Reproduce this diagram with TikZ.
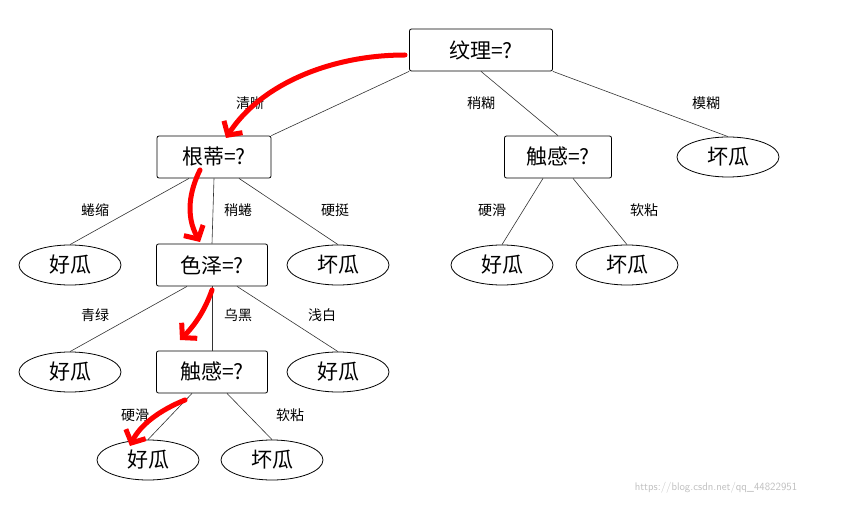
\documentclass[tikz,border=0pt]{standalone}
\usepackage{fontspec}
\setmainfont{Liberation Serif}
\newfontfamily\cjk{Noto Sans CJK SC}
\usetikzlibrary{arrows.meta,shapes.geometric}
\begin{document}
\begin{tikzpicture}[x=1pt,y=-1pt,
 q/.style={draw,thick,rounded corners=2pt,minimum width=#1,minimum height=42pt,font=\cjk\fontsize{21}{23}\selectfont,inner sep=2pt},
 q/.default=110pt,
 leaf/.style={draw,thick,ellipse,minimum width=102pt,minimum height=40pt,font=\cjk\fontsize{21}{23}\selectfont,inner sep=0pt},
 lb/.style={font=\cjk\fontsize{14}{16}\selectfont},
 e/.style={draw,semithick,black!80},
 red/.style={draw=red,line width=5pt,line cap=round,-{Straight Barb[length=10pt,width=22pt]}}]
\useasboundingbox (0,0) rectangle (849,505);
\node[q=143pt] (t) at (481,50) {纹理=?};
\node[q=114pt] (g) at (214,157) {根蒂=?};
\node[q=107pt] (c1) at (558,157) {触感=?};
\node[leaf] (b1) at (728,157) {坏瓜};
\node[leaf] (h1) at (70,265) {好瓜};
\node[q=111pt] (s) at (212,265) {色泽=?};
\node[leaf] (b2) at (338,265) {坏瓜};
\node[leaf] (h2) at (502,265) {好瓜};
\node[leaf] (b3) at (627,265) {坏瓜};
\node[leaf] (h3) at (70,372) {好瓜};
\node[q=111pt] (c2) at (212,372) {触感=?};
\node[leaf] (h4) at (338,372) {好瓜};
\node[leaf] (h5) at (148,460) {好瓜};
\node[leaf] (b4) at (272,460) {坏瓜};
\draw[e] (t.south west) -- (g.north east);
\draw[e] (t.south) -- (c1.north);
\draw[e] (t.south east) -- (b1.north);
\draw[e] (g.south) ++(-25,0) -- (h1.north);
\draw[e] (g.south) -- (s.north);
\draw[e] (g.south) ++(25,0) -- (b2.north);
\draw[e] (c1.south) ++(-15,0) -- (h2.north);
\draw[e] (c1.south) ++(15,0) -- (b3.north);
\draw[e] (s.south) ++(-25,0) -- (h3.north);
\draw[e] (s.south) -- (c2.north);
\draw[e] (s.south) ++(25,0) -- (h4.north);
\draw[e] (c2.south) ++(-20,0) -- (h5.north);
\draw[e] (c2.south) ++(15,0) -- (b4.north);
\node[lb] (l1) at (250,103) {清晰};
\node[lb] (l2) at (481,103) {稍糊};
\node[lb] (l3) at (706,103) {模糊};
\node[lb] (l4) at (95,210) {蜷缩};
\node[lb] (l5) at (238,210) {稍蜷};
\node[lb] (l6) at (335,210) {硬挺};
\node[lb] (l7) at (492,210) {硬滑};
\node[lb] (l8) at (644,210) {软粘};
\node[lb] (l9) at (95,315) {青绿};
\node[lb] (l10) at (238,315) {乌黑};
\node[lb] (l11) at (322,315) {浅白};
\node[lb] (l12) at (135,415) {硬滑};
\node[lb] (l13) at (290,415) {软粘};
\node[font=\sffamily\fontsize{11}{12}\selectfont,text=black!25] (w) at (716,488) {https://blog.csdn.net/qq\_44822951};
\draw[red] (405,55) .. controls (330,55) and (260,85) .. (226,138);
\draw[red] (200,170) .. controls (190,190) and (185,215) .. (200,242);
\draw[red] (212,290) .. controls (205,310) and (195,325) .. (180,340);
\draw[red] (185,400) .. controls (160,410) and (140,425) .. (130,446);
\end{tikzpicture}
\end{document}
